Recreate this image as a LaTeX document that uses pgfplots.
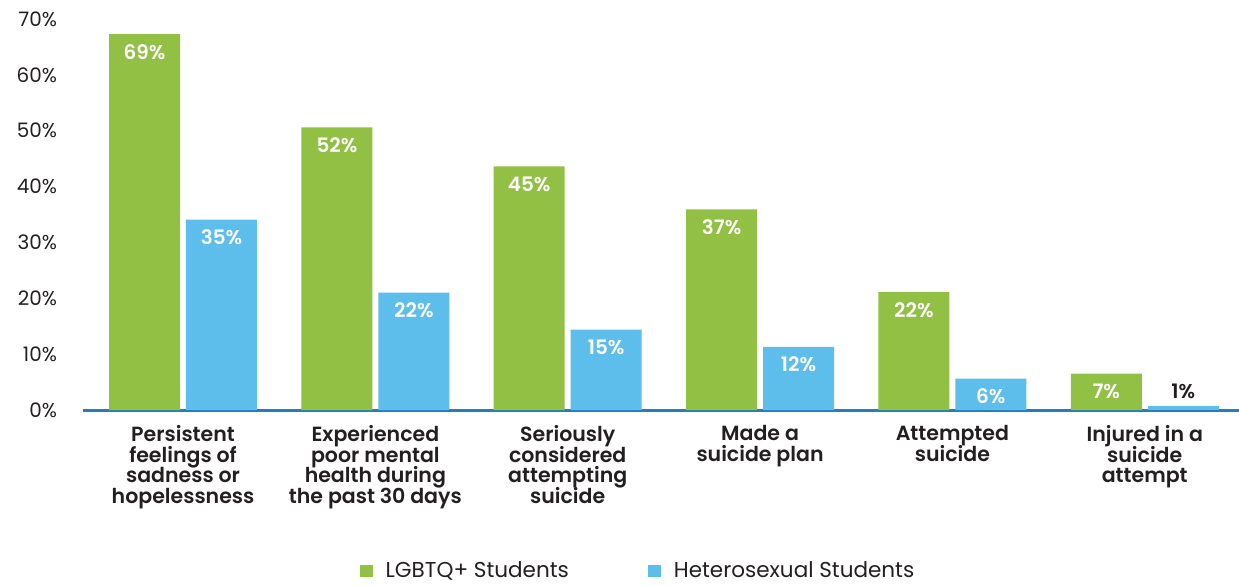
\documentclass[border=0pt]{standalone}
\usepackage{fontspec}
\setmainfont{Poppins}[BoldFont={Poppins SemiBold}]
\usepackage{pgfplots}
\pgfplotsset{compat=1.18}
\definecolor{lgreen}{RGB}{146,192,69}
\definecolor{hblue}{RGB}{93,190,235}
\definecolor{axblue}{RGB}{30,128,194}
\definecolor{txt}{RGB}{35,31,32}
\begin{document}
\lineskiplimit=-100pt\relax
\begin{tikzpicture}
\begin{axis}[
  at={(0,0)}, anchor=south west,
  scale only axis, width=578bp, height=195.5bp,
  xmin=-0.52, xmax=5.49, ymin=0, ymax=70,
  clip=false,
  axis lines*=left,
  axis line style={-},
  y axis line style={draw=none},
  x axis line style={draw=axblue, line width=1.5bp},
  xtick={0,1,2,3,4,5},
  xticklabels={{Persistent\\feelings of\\sadness or\\hopelessness},
               {Experienced\\poor mental\\health during\\the past 30 days},
               {Seriously\\considered\\attempting\\suicide},
               {Made a\\suicide plan},
               {Attempted\\suicide},
               {Injured in a\\suicide\\attempt}},
  major tick length=0pt,
  ytick={0,10,20,30,40,50,60,70},
  yticklabel={\pgfmathprintnumber{\tick}\%},
  /pgf/number format/assume math mode=true,
  yticklabel style={font=\fontsize{10}{12}\selectfont, text=txt, xshift=-9.5bp},
  xticklabel style={align=center, font=\fontsize{10.3}{10.5}\selectfont\bfseries, text=txt, yshift=-4bp},
  legend style={at={(0.5,0)}, anchor=center, xshift=-11bp, yshift=-80.5bp,
    draw=none, fill=none, font=\fontsize{10.8}{13}\selectfont, text=txt,
    /tikz/every odd column/.append style={column sep=4.5bp},
    /tikz/every even column/.append style={column sep=37.5bp}},
  legend columns=2,
  legend cell align=left,
  legend image code/.code={\fill[#1] (0bp,-3bp) rectangle (6.5bp,3.2bp);},
  point meta=explicit symbolic,
]
\addplot[ybar, bar width=35.5bp, bar shift=0pt, fill=lgreen, draw=none,
  nodes near coords, nodes near coords align={below},
  every node near coord/.append style={text=white, font=\fontsize{10}{12}\selectfont\bfseries, yshift=-1.5bp}]
  coordinates {(-0.2,67.3) [69\%] (0.8,50.6) [52\%] (1.8,43.6) [45\%] (2.8,35.9) [37\%] (3.8,21.1) [22\%] (4.8,6.5) [7\%]};
\addlegendentry{LGBTQ+ Students}
\addplot[ybar, bar width=35.5bp, bar shift=0pt, fill=hblue, draw=none,
  nodes near coords, nodes near coords align={below},
  every node near coord/.append style={text=white, font=\fontsize{10}{12}\selectfont\bfseries, yshift=-1.5bp}]
  coordinates {(0.2,34.1) [35\%] (1.2,21.0) [22\%] (2.2,14.4) [15\%] (3.2,11.3) [12\%] (4.2,5.6) [6\%]};
\addlegendentry{Heterosexual Students}
\addplot[ybar, bar width=35.5bp, bar shift=0pt, fill=hblue, draw=none, forget plot,
  nodes near coords, nodes near coords align={above},
  every node near coord/.append style={text=txt, font=\fontsize{10}{12}\selectfont\bfseries}]
  coordinates {(5.2,0.7) [1\%]};
\end{axis}
\pgfresetboundingbox
\path (-41.5bp,-88bp) rectangle (578bp,205bp);
\end{tikzpicture}
\end{document}
